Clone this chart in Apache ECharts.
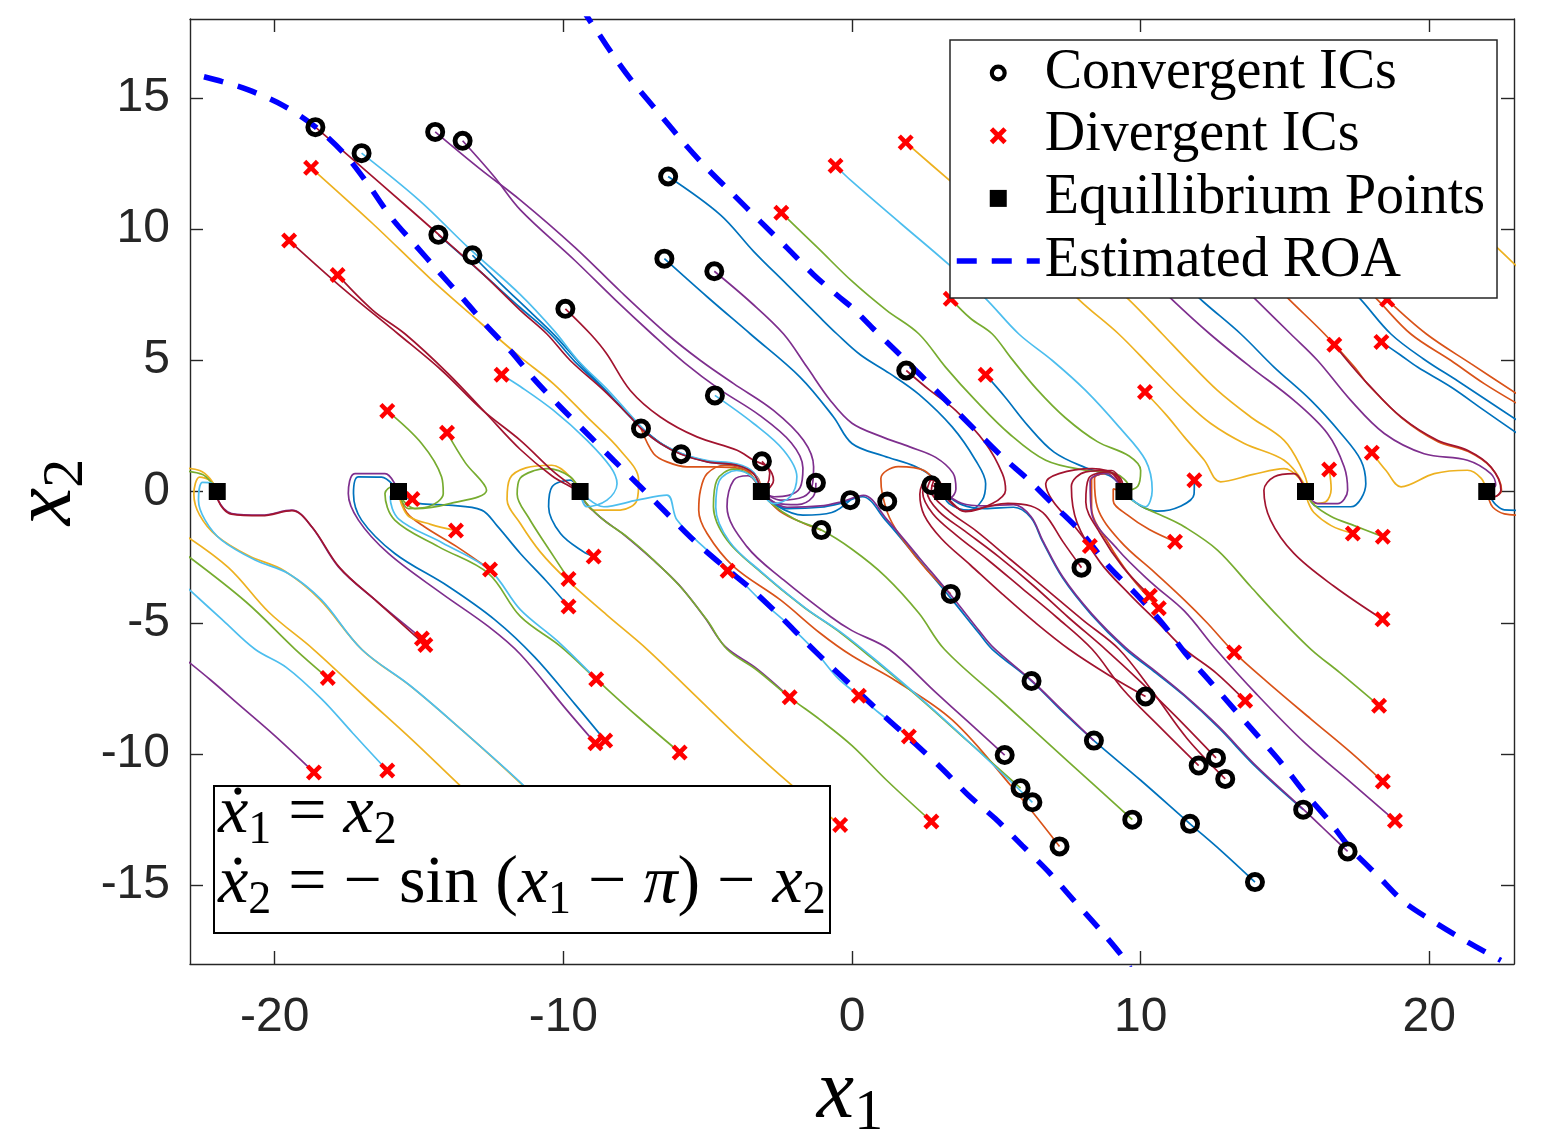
<!DOCTYPE html>
<html>
<head>
<meta charset="utf-8">
<script src="https://cdn.jsdelivr.net/npm/echarts@6/dist/echarts.min.js"></script>
<style>html,body{margin:0;padding:0;background:#fff}#chart{width:1541px;height:1140px}</style>
</head>
<body>
<div id="chart"></div>
<script>
// ---------------- data ----------------
const xTicks = [-20, -10, 0, 10, 20];
const yTicks = [-15, -10, -5, 0, 5, 10, 15];
const xRange = [-22.934, 22.934];
const yRange = [-18, 18];

const convergentICs = [
  [-18.59,13.88],[-16.99,12.89],[-14.44,13.70],[-13.49,13.36],[-14.33,9.78],[-13.15,9.0],
  [-9.93,6.96],[-6.37,12.0],[-6.5,8.87],[-4.77,8.39],[-4.75,3.66],[-7.31,2.40],[-5.92,1.42],
  [-3.12,1.15],[-1.25,0.33],[-1.06,-1.47],[-0.06,-0.33],[1.22,-0.38],[2.75,0.24],[1.88,4.61],
  [3.42,-3.90],[7.95,-2.90],[6.22,-7.22],[10.17,-7.81],[8.38,-9.49],[5.29,-10.04],[5.84,-11.30],
  [6.25,-11.84],[9.71,-12.50],[7.19,-13.52],[11.71,-12.66],[12.61,-10.15],[12.01,-10.44],
  [12.93,-10.95],[15.63,-12.12],[17.17,-13.71],[13.96,-14.88]
];
const divergentICs = [
  [-18.74,12.33],[-19.50,9.56],[-17.82,8.25],[-2.45,10.62],[-0.57,12.41],[1.86,13.30],[3.42,7.34],
  [18.54,7.31],[-16.10,3.07],[-14.03,2.24],[-12.14,4.45],[-15.23,-0.29],[-13.72,-1.49],[-12.54,-2.97],
  [-14.90,-5.60],[-14.78,-5.85],[-8.95,-2.48],[-9.82,-3.33],[-9.82,-4.38],[-4.31,-3.02],[4.63,4.45],
  [10.15,3.79],[8.24,-2.08],[10.32,-3.97],[10.63,-4.45],[11.19,-1.91],[11.86,0.43],[16.71,5.59],
  [18.34,5.70],[18.01,1.48],[16.53,0.84],[17.35,-1.60],[18.39,-1.72],[18.38,-4.87],[13.24,-6.13],
  [13.62,-7.97],[18.26,-8.16],[18.39,-11.05],[18.81,-12.54],[0.24,-7.78],[1.97,-9.33],[2.75,-12.57],
  [-0.41,-12.70],[-2.16,-7.84],[-5.97,-9.94],[-8.86,-7.15],[-8.89,-9.59],[-8.55,-9.49],[-18.16,-7.10],
  [-18.64,-10.70],[-16.10,-10.63]
];
const equilibria = [[-21.99,0],[-15.71,0],[-9.42,0],[-3.14,0],[3.14,0],[9.42,0],[15.71,0],[21.99,0]];

const roaLower = [
  [-22.45,15.8],[-21.84,15.62],[-20.91,15.30],[-19.70,14.70],[-18.60,13.90],[-17.56,12.83],[-16.75,11.68],
  [-15.95,10.42],[-15.14,9.40],[-14.33,8.39],[-13.40,7.25],[-12.60,6.24],[-11.79,5.31],[-11.03,4.30],
  [-10.10,3.22],[-9.18,2.21],[-8.26,1.19],[-7.33,0.18],[-6.41,-0.84],[-5.49,-1.85],[-4.50,-2.80],
  [-3.45,-3.75],[-2.48,-4.76],[-1.56,-5.78],[-0.70,-6.70],[0.12,-7.53],[1.16,-8.60],[2.20,-9.62],
  [3.13,-10.57],[4.05,-11.59],[4.97,-12.47],[5.90,-13.49],[6.82,-14.50],[7.63,-15.51],[8.56,-16.65],
  [9.42,-17.79],[9.75,-18.4]
];
const roaUpper = [
  [-9.40,18.5],[-9.12,18.0],[-8.78,17.45],[-8.20,16.50],[-7.56,15.55],[-6.64,14.35],[-5.77,13.21],
  [-4.97,12.25],[-4.10,11.30],[-3.18,10.29],[-2.25,9.28],[-1.33,8.26],[-0.41,7.38],[0.01,7.0],
  [0.70,6.24],[1.51,5.37],[2.44,4.36],[3.36,3.35],[4.28,2.33],[5.21,1.32],[6.13,0.43],[7.05,-0.58],
  [7.98,-1.60],[8.90,-2.86],[9.82,-3.88],[10.75,-5.02],[11.62,-6.26],[12.43,-7.27],[13.24,-8.29],
  [14.05,-9.30],[14.86,-10.32],[15.67,-11.46],[16.47,-12.47],[17.28,-13.61],[18.21,-14.63],
  [19.13,-15.64],[20.17,-16.40],[21.32,-17.16],[22.48,-17.86]
];

// trajectories, grouped by colour of the line
const blueTrajectories = [
  [[-14.33,9.78],[-12.9,8.4],[-11.49,7.0],[-10.45,6.0],[-9.6,4.95],[-8.5,3.8],[-7.6,2.75],[-6.7,1.9],[-5.9,1.44],[-5.0,1.15],[-4.0,1.02],[-3.4,0.7],[-3.14,0]],
  [[-13.15,9.0],[-12.2,7.95],[-11.2,6.9],[-10.3,5.95],[-9.45,4.9],[-8.45,3.75],[-7.5,2.65],[-6.65,1.85],[-5.85,1.4],[-4.95,1.12],[-3.95,0.98],[-3.38,0.66],[-3.14,0]],
  [[-6.37,12.0],[-4.56,10.54],[-3.41,9.15],[-2.25,7.88],[-1.1,6.62],[-0.52,6.0],[0.3,5.2],[1.3,4.5],[2.32,3.7],[3.47,2.46],[4.28,1.19],[4.63,0.3],[4.51,-0.33],[4.05,-0.71],[3.36,-0.46],[3.14,0]],
  [[-6.5,8.87],[-5.0,7.4],[-3.52,6.0],[-1.8,4.36],[-0.64,2.84],[0.0,1.83],[1.1,1.35],[2.2,0.95],[2.9,0.45],[3.14,0]],
  [[13.96,-14.88],[12.8,-13.7],[11.71,-12.66],[10.0,-11.0],[8.38,-9.49],[7.3,-8.4],[6.22,-7.22],[4.86,-6.01],[4.4,-5.4],[3.47,-4.13],[2.32,-2.61],[1.16,-1.09],[0.36,-0.2],[-0.4,-0.45],[-1.1,-0.6],[-2.25,-0.65],[-2.94,-0.27],[-3.14,0]],
  [[15.63,-12.12],[14.0,-10.5],[12.7,-9.0],[11.51,-7.78],[10.4,-6.8],[9.48,-6.01],[8.3,-4.7],[7.3,-3.3],[6.6,-1.9],[6.2,-1.0],[5.6,-0.6],[4.6,-0.65],[3.8,-0.5],[3.14,0]],
  [[-0.06,-0.33],[-0.7,-0.8],[-1.7,-0.9],[-2.6,-0.55],[-3.14,0]],
  [[-8.95,-2.48],[-9.3,-2.3],[-10.1,-1.6],[-10.51,-0.58],[-10.39,0.18],[-9.76,0.43],[-9.42,0]],
  [[-9.82,-4.38],[-10.6,-3.4],[-11.49,-2.36],[-12.3,-1.3],[-12.83,-0.71],[-13.98,-0.52],[-15.0,-0.45],[-15.71,0]],
  [[-8.55,-9.49],[-9.6,-8.1],[-11.0,-6.3],[-12.37,-4.89],[-13.98,-3.62],[-15.84,-2.36],[-16.99,-1.09],[-17.27,-0.08],[-17.1,0.56],[-16.3,0.55],[-15.71,0]],
  [[4.63,4.45],[5.3,3.6],[6.1,2.5],[7.0,1.5],[8.1,0.9],[9.0,0.55],[9.42,0]],
  [[11.86,0.43],[11.85,-0.1],[11.4,-0.55],[10.6,-0.75],[10.0,-0.55],[9.42,0]],
  [[11.0,8.4],[12.2,7.2],[13.47,6.0],[14.62,4.74],[15.9,3.47],[16.94,2.21],[17.63,1.19],[17.8,0.3],[17.28,-0.58],[16.13,-0.58],[15.71,0]],
  [[18.34,5.70],[19.0,5.2],[19.59,4.74],[20.75,3.98],[21.9,3.09],[23.2,2.1]],
  [[16.5,8.6],[17.63,7.31],[18.67,6.0],[19.8,5.05],[21.0,4.2],[22.1,3.4],[23.2,2.6]],
  [[23.2,-0.72],[22.6,-0.7],[22.3,-0.5],[22.1,-0.2],[21.99,0]]
];
const orangeTrajectories = [
  [[-7.31,2.4],[-6.87,1.44],[-6.41,1.13],[-5.72,0.94],[-4.8,0.94],[-3.87,0.87],[-3.29,0.56],[-3.14,0]],
  [[7.19,-13.52],[5.5,-11.2],[3.47,-8.7],[1.5,-7.2],[0,-6.26],[-1.1,-5.4],[-2.48,-4.13],[-4.1,-2.86],[-5.02,-1.6],[-5.31,-0.71],[-5.25,0.05],[-5.02,0.68],[-4.4,1.0],[-3.6,0.75],[-3.14,0]],
  [[3.42,-3.90],[2.6,-3.0],[1.8,-1.9],[1.3,-1.0],[1.05,-0.1],[1.0,0.5],[1.6,0.95],[2.5,0.8],[3.14,0]],
  [[-1.06,-1.47],[-1.7,-1.2],[-2.5,-0.75],[-3.0,-0.2],[-3.14,0]],
  [[-12.54,-2.97],[-13.72,-2.08],[-14.8,-1.35],[-15.43,-0.8],[-15.71,0]],
  [[11.19,-1.91],[10.3,-1.45],[9.55,-0.9],[9.05,-0.35],[9.05,0.1],[9.42,0]],
  [[18.39,-11.05],[17.28,-9.94],[15.9,-8.67],[14.4,-7.27],[13.24,-6.13],[12.3,-5.0],[11.51,-4.13],[10.5,-3.1],[9.3,-1.9],[8.5,-0.6],[8.4,0.5],[9.0,0.7],[9.42,0]],
  [[10.63,-4.45],[9.7,-3.3],[8.9,-2.0],[8.3,-0.6],[8.3,0.45],[8.95,0.7],[9.42,0]],
  [[14.0,8.6],[15.15,7.31],[16.37,6.0],[17.4,4.75],[17.9,4.05],[19.05,2.8],[20.3,1.9],[21.35,1.52],[22.15,0.9],[22.5,0.05],[22.25,-0.2],[21.99,0]],
  [[17.0,8.6],[18.2,7.31],[19.36,6.0],[20.75,4.99],[21.9,4.11],[23.2,3.25]],
  [[18.54,7.31],[19.9,6.0],[21.44,4.87],[23.2,3.6]],
  [[23.2,-0.9],[22.6,-0.85],[22.2,-0.6],[22.05,-0.25],[21.99,0]],
  [[-15.23,-0.29],[-15.45,-0.2],[-15.71,0]]
];
const yellowTrajectories = [
  [[-18.74,12.33],[-16.6,10.2],[-14.6,8.1],[-12.94,6.49],[-11.49,5.12],[-10.34,4.1],[-9.18,2.84],[-8.03,1.57],[-7.39,0.43],[-7.45,-0.33],[-8.03,-0.71],[-8.95,-0.71],[-9.42,0]],
  [[-10.2,-12.5],[-11.45,-11.15],[-13.45,-9.15],[-15.25,-7.45],[-16.95,-6.05],[-18.45,-4.1],[-19.7,-3.0],[-20.9,-2.45],[-22.0,-1.7],[-22.6,-0.9],[-22.8,-0.1],[-22.6,0.55],[-22.2,0.4],[-21.99,0]],
  [[-23.2,0.9],[-22.6,0.8],[-22.25,0.5],[-21.99,0]],
  [[-12.3,-12.5],[-13.64,-11.14],[-15.2,-9.5],[-16.9,-7.8],[-18.66,-6.01],[-20.2,-4.6],[-21.6,-2.9],[-23.2,-1.6]],
  [[-13.72,-1.49],[-14.6,-1.25],[-15.35,-0.95],[-15.6,-0.5],[-15.71,0]],
  [[-0.41,-12.70],[-2.14,-11.14],[-3.8,-9.5],[-5.5,-7.7],[-7.1,-6.01],[-8.5,-4.7],[-9.87,-3.37],[-10.8,-2.3],[-11.49,-1.22],[-11.95,-0.3],[-11.85,0.5],[-11.3,0.9],[-10.4,1.0],[-9.8,0.6],[-9.42,0]],
  [[1.86,13.3],[3.36,11.87],[4.6,10.7]],
  [[10.15,3.79],[10.9,2.9],[11.51,2.08],[12.2,1.2],[12.77,0.37],[13.9,0.65],[14.97,0.87],[15.5,0.5],[15.71,0]],
  [[8.3,8.6],[9.59,7.31],[10.75,6.0],[11.51,5.12],[12.66,3.85],[13.81,2.84],[14.97,1.95],[15.55,0.94],[15.78,0.18],[15.71,0]],
  [[6.5,8.9],[7.86,7.31],[9.24,6.0],[10.4,4.7],[11.51,3.47],[12.43,2.59],[13.59,1.83],[14.97,1.19],[15.66,0.3],[15.71,0]],
  [[16.53,0.84],[16.6,0.1],[16.4,-0.4],[16.0,-0.45],[15.71,0]],
  [[17.35,-1.60],[16.6,-1.3],[16.0,-0.8],[15.8,-0.4],[15.71,0]],
  [[18.01,1.48],[18.5,0.8],[19.02,0.18],[20.17,0.68],[21.32,0.81],[21.8,0.5],[21.99,0]],
  [[21.3,10.4],[22.36,9.28],[23.2,8.4]]
];
const purpleTrajectories = [
  [[-14.44,13.70],[-12.9,12.3],[-11.49,11.1],[-9.6,9.3],[-8.0,7.6],[-6.41,6.0],[-5.25,4.99],[-4.1,4.11],[-2.72,3.09],[-1.68,1.95],[-1.33,0.94],[-1.39,0.18],[-1.68,-0.2],[-2.48,-0.33],[-2.94,-0.14],[-3.14,0]],
  [[-13.49,13.36],[-12.4,12.0],[-11.49,10.73],[-9.6,8.8],[-8.2,7.3],[-6.93,6.0],[-5.8,4.9],[-4.6,3.9],[-3.2,2.9],[-2.1,1.85],[-1.7,0.9],[-1.8,0.15],[-2.2,-0.15],[-2.7,-0.2],[-3.14,0]],
  [[-4.77,8.39],[-3.5,7.2],[-2.37,6.0],[-1.56,4.74],[-0.75,3.47],[0,2.6],[1.0,2.1],[2.0,1.7],[2.9,1.3],[3.5,0.7],[3.6,0.1],[3.4,-0.25],[3.14,0]],
  [[5.29,-10.04],[4.0,-8.75],[2.9,-7.65],[1.28,-6.01],[0,-5.3],[-0.75,-4.76],[-2.37,-3.37],[-3.64,-2.1],[-4.33,-0.58],[-4.1,0.43],[-3.6,0.6],[-3.14,0]],
  [[-1.25,0.33],[-1.35,-0.2],[-1.9,-0.5],[-2.6,-0.45],[-3.0,-0.15],[-3.14,0]],
  [[8.38,-9.49],[7.3,-8.35],[6.22,-7.2],[4.9,-5.95],[4.4,-5.3],[3.5,-4.05],[2.35,-2.55],[1.2,-1.05],[0.4,-0.15],[-0.4,-0.4],[-1.1,-0.55],[-2.25,-0.6],[-2.94,-0.25],[-3.14,0]],
  [[17.17,-13.71],[16.3,-12.8],[15.63,-12.1],[14.0,-10.45],[12.7,-8.95],[11.51,-7.75],[10.4,-6.75],[9.48,-5.95],[8.3,-4.65],[7.3,-3.25],[6.6,-1.85],[6.2,-0.95],[5.6,-0.5],[4.6,-0.55],[3.8,-0.45],[3.14,0]],
  [[-2.16,-7.84],[-3.3,-6.75],[-4.4,-5.9],[-5.1,-4.8],[-6.0,-3.55],[-6.95,-2.55],[-7.9,-1.65],[-8.7,-1.0],[-9.25,-0.4],[-9.42,0]],
  [[-8.89,-9.59],[-9.9,-8.3],[-11.49,-6.2],[-12.6,-5.14],[-14.22,-3.88],[-16.06,-2.36],[-17.1,-1.09],[-17.45,-0.08],[-17.22,0.68],[-16.18,0.68],[-15.71,0]],
  [[-14.90,-5.60],[-16.52,-4.13],[-17.79,-2.87],[-18.72,-1.34],[-19.41,-0.71],[-20.45,-0.90],[-21.49,-0.84],[-21.95,-0.35],[-21.99,0]],
  [[-18.64,-10.70],[-20.0,-9.3],[-21.26,-8.10],[-22.2,-7.2],[-23.2,-6.3]],
  [[9.9,8.6],[11.09,7.31],[12.4,6.0],[13.81,4.74],[15.31,3.47],[16.47,2.21],[17.05,0.94],[17.17,0.05],[16.82,-0.46],[16.13,-0.46],[15.71,0]],
  [[12.7,8.7],[13.99,7.31],[15.2,6.0],[16.13,4.99],[17.28,3.47],[18.44,2.21],[19.82,1.44],[21.32,1.19],[22.13,0.68],[22.3,0.25],[21.99,0]],
  [[18.81,-12.54],[17.28,-11.08],[15.67,-9.56],[14.0,-7.7],[12.6,-6.0],[11.51,-4.55],[10.4,-3.5],[9.2,-2.2],[8.3,-0.8],[8.25,0.4],[8.8,0.7],[9.42,0]]
];
const greenTrajectories = [
  [[-16.10,3.07],[-14.91,1.83],[-14.22,0.56],[-14.16,-0.08],[-14.68,-0.58],[-15.37,-0.65],[-15.71,0]],
  [[-14.03,2.24],[-13.4,1.1],[-12.66,0.05],[-13.9,-0.45],[-15.14,-0.65],[-15.5,-0.4],[-15.71,0]],
  [[-23.2,0.8],[-22.5,0.65],[-22.2,0.35],[-21.99,0]],
  [[-18.16,-7.10],[-19.29,-6.01],[-21.0,-4.2],[-23.2,-2.3]],
  [[-5.97,-9.94],[-7.4,-8.6],[-8.86,-7.15],[-10.1,-5.9],[-11.49,-4.76],[-12.6,-3.12],[-14.33,-2.10],[-15.84,-1.09],[-16.18,-0.08],[-15.9,0.2],[-15.71,0]],
  [[-9.82,-3.33],[-10.5,-2.2],[-11.2,-1.0],[-11.6,-0.1],[-11.5,0.5],[-11.0,0.8],[-10.56,0.87],[-9.76,0.56],[-9.42,0]],
  [[2.75,-12.57],[1.2,-11.0],[0,-9.68],[-1.1,-8.7],[-2.16,-7.84],[-3.3,-6.8],[-4.33,-6.01],[-5.03,-4.89],[-5.95,-3.62],[-6.87,-2.61],[-7.8,-1.72],[-8.6,-1.09],[-9.2,-0.45],[-9.42,0]],
  [[5.84,-11.3],[4.05,-9.55],[2.32,-7.85],[0.69,-6.35],[-0.5,-5.3],[-1.68,-4.4],[-3.18,-3.05],[-4.33,-1.85],[-4.8,-0.58],[-4.68,0.43],[-4.1,0.85],[-3.5,0.6],[-3.14,0]],
  [[9.71,-12.5],[7.5,-10.3],[5.2,-8.0],[3.2,-6.01],[2.32,-4.64],[1.16,-3.24],[0,-2.2],[-1.06,-1.47],[-2.0,-1.05],[-2.8,-0.45],[-3.14,0]],
  [[-2.45,10.62],[-1.2,9.3],[0,8.01],[1.2,6.9],[2.32,6.0],[3.24,4.74],[4.28,3.47],[5.44,2.21],[6.71,1.19],[8.09,0.81],[9.13,0.68],[9.59,0.18],[9.42,0]],
  [[3.42,7.34],[4.1,6.6],[4.86,6.0],[5.5,5.1],[6.4,3.9],[7.4,2.8],[8.5,1.9],[9.6,1.35],[10.0,0.8],[9.9,0.2],[9.42,0]],
  [[18.39,-1.72],[17.4,-1.3],[16.6,-0.95],[16.0,-0.5],[15.71,0]],
  [[18.26,-8.16],[16.9,-6.9],[15.9,-6.01],[14.8,-4.8],[13.81,-3.62],[12.66,-2.23],[11.51,-1.34],[10.8,-0.95],[10.1,-0.6],[9.6,-0.25],[9.42,0]]
];
const lightBlueTrajectories = [
  [[-16.99,12.89],[-15.0,11.1],[-13.3,9.3],[-11.49,7.5],[-10.3,6.1],[-9.5,5.0],[-8.4,3.8],[-7.5,2.7],[-6.8,1.95],[-5.9,1.45],[-5.0,1.18],[-4.0,1.05],[-3.4,0.72],[-3.14,0]],
  [[-12.14,4.45],[-11.49,4.0],[-10.34,3.09],[-9.18,1.95],[-8.37,0.94],[-8.14,0.3],[-8.49,-0.33],[-9.18,-0.58],[-9.42,0]],
  [[1.97,-9.33],[0.9,-8.4],[0.24,-7.78],[-0.5,-7.1],[-1.33,-6.01],[-2.25,-5.02],[-3.18,-4.13],[-4.1,-3.12],[-5.02,-2.23],[-6.06,-1.09],[-6.41,-0.14],[-7.45,-0.33],[-8.6,-0.58],[-9.42,0]],
  [[-10.3,-12.4],[-11.49,-11.08],[-13.5,-9.1],[-15.3,-7.4],[-16.99,-6.01],[-18.38,-4.13],[-19.53,-3.12],[-20.68,-2.61],[-21.84,-1.85],[-22.41,-1.09],[-22.64,-0.33],[-22.5,0.35],[-22.15,0.3],[-21.99,0]],
  [[-16.10,-10.63],[-17.3,-9.2],[-18.37,-7.91],[-19.6,-6.7],[-20.68,-6.01],[-21.8,-4.9],[-23.2,-3.5]],
  [[-8.86,-7.15],[-10.2,-5.7],[-11.49,-4.5],[-12.54,-3.0],[-14.2,-1.95],[-15.7,-1.05],[-16.0,-0.2],[-15.71,0]],
  [[-0.57,12.41],[0,11.81],[1.7,10.2],[3.36,8.64],[4.63,7.35],[5.78,6.0],[6.94,4.99],[8.09,3.85],[9.25,2.46],[10.17,1.19],[10.4,0.05],[10.17,-0.58],[9.71,-0.33],[9.42,0]],
  [[-4.75,3.66],[-3.41,2.59],[-2.37,1.57],[-1.91,0.56],[-2.14,-0.2],[-2.72,-0.46],[-3.14,0]],
  [[6.25,-11.84],[4.3,-9.8],[2.45,-7.95],[0.8,-6.4],[-0.4,-5.35],[-1.6,-4.45],[-3.1,-3.1],[-4.25,-1.9],[-4.72,-0.6],[-4.6,0.4],[-4.0,0.8],[-3.45,0.55],[-3.14,0]]
];
const darkRedTrajectories = [
  [[-18.59,13.88],[-16.3,11.7],[-14.33,9.8],[-12.8,8.3],[-11.49,6.9],[-10.57,6.0],[-9.76,4.99],[-8.6,3.85],[-7.68,2.84],[-7.31,2.40],[-6.64,1.83],[-5.92,1.42],[-5.02,1.13],[-3.98,1.0],[-3.41,0.68],[-3.14,0]],
  [[-19.50,9.56],[-17.6,7.7],[-15.72,6.0],[-14.2,4.6],[-12.8,3.1],[-11.49,1.95],[-10.34,0.76],[-9.65,0.18],[-9.42,0]],
  [[-17.82,8.25],[-16.6,6.9],[-15.48,6.0],[-14.0,4.5],[-12.7,3.0],[-11.49,1.6],[-10.4,0.6],[-9.7,0.15],[-9.42,0]],
  [[-9.93,6.96],[-9.06,6.0],[-8.5,5.25],[-7.68,3.85],[-6.64,2.84],[-5.37,2.08],[-3.98,1.57],[-3.41,1.19],[-2.94,0.94],[-2.72,0.43],[-2.94,0.05],[-3.14,0]],
  [[-14.78,-5.85],[-16.45,-4.2],[-17.75,-2.9],[-18.7,-1.36],[-19.4,-0.73],[-20.45,-0.92],[-21.5,-0.86],[-21.95,-0.36],[-21.99,0]],
  [[1.88,4.61],[2.7,3.85],[3.59,3.09],[4.63,1.83],[5.21,0.68],[5.32,0.05],[4.86,-0.46],[3.93,-0.77],[3.4,-0.4],[3.14,0]],
  [[7.95,-2.90],[7.3,-1.9],[6.7,-0.9],[6.2,-0.55],[5.4,-0.45],[4.6,-0.6],[3.9,-0.75],[3.4,-0.35],[3.14,0]],
  [[10.17,-7.81],[8.9,-7.0],[7.52,-6.01],[6.3,-4.95],[5.2,-3.9],[4.1,-2.8],[3.1,-1.8],[2.5,-0.9],[2.35,-0.1],[2.6,0.45],[3.0,0.35],[3.14,0]],
  [[12.01,-10.44],[10.6,-8.9],[9.4,-7.55],[8.32,-6.01],[7.1,-4.8],[5.9,-3.7],[4.7,-2.6],[3.6,-1.65],[2.8,-0.85],[2.45,-0.05],[2.7,0.5],[3.05,0.35],[3.14,0]],
  [[12.61,-10.15],[11.2,-8.55],[10.0,-7.25],[8.78,-6.01],[7.5,-4.8],[6.3,-3.6],[5.1,-2.5],[3.9,-1.5],[3.0,-0.75],[2.6,0.0],[2.8,0.5],[3.14,0]],
  [[12.93,-10.95],[11.6,-9.4],[10.4,-7.6],[9.25,-6.01],[8.0,-4.9],[6.7,-3.7],[5.5,-2.6],[4.3,-1.5],[3.3,-0.7],[2.75,0.05],[2.9,0.5],[3.14,0]],
  [[8.24,-2.08],[7.63,-1.22],[6.94,-0.33],[6.71,0.3],[7.17,0.68],[8.32,0.87],[9.25,0.56],[9.42,0]],
  [[13.62,-7.97],[12.6,-6.9],[11.51,-6.0],[10.7,-5.1],[9.6,-3.9],[8.6,-2.7],[7.8,-1.2],[7.6,0.2],[8.1,0.75],[9.0,0.8],[9.42,0]],
  [[10.32,-3.97],[9.4,-2.9],[8.6,-1.6],[8.1,-0.4],[8.2,0.5],[8.9,0.75],[9.42,0]],
  [[16.71,5.59],[17.3,4.8],[17.86,4.11],[19.02,2.84],[20.28,1.95],[21.32,1.57],[22.13,0.94],[22.48,0.05],[22.25,-0.2],[21.99,0]],
  [[18.38,-4.87],[16.71,-3.62],[15.31,-2.36],[14.5,-1.09],[14.27,0.05],[14.63,0.56],[15.32,0.68],[15.71,0]],
  [[-3.12,1.15],[-2.85,0.7],[-2.95,0.2],[-3.14,0]],
  [[2.75,0.24],[2.95,0.15],[3.14,0]]
];
const legendNames = ['Convergent ICs', 'Divergent ICs', 'Equillibrium Points', 'Estimated ROA'];

// ---------------- chart ----------------
const ringSymbol = 'path://M10,0A10,10,0,1,1,10,20A10,10,0,1,1,10,0ZM10,4.9A5.1,5.1,0,1,0,10,15.1A5.1,5.1,0,1,0,10,4.9Z';
const crossSymbol = 'path://M2,0L5,3L8,0L10,2L7,5L10,8L8,10L5,7L2,10L0,8L3,5L0,2Z';
const squareSymbol = 'path://M0,0H10V10H0Z';

const trajectoryGroups = [
  [blueTrajectories, '#0072BD'], [orangeTrajectories, '#D95319'], [yellowTrajectories, '#EDB120'],
  [purpleTrajectories, '#7E2F8E'], [greenTrajectories, '#77AC30'], [lightBlueTrajectories, '#4DBEEE'],
  [darkRedTrajectories, '#A2142F']
];
const series = [];
trajectoryGroups.forEach(([paths, color]) => {
  paths.forEach(p => series.push({
    type: 'line', data: p, showSymbol: false, symbol: 'none', smooth: 0.35, silent: true,
    lineStyle: { color: color, width: 1.7 }, z: 2
  }));
});
const roaStyle = { color: '#0000FF', width: 5.5, type: [20, 15], cap: 'butt' };
series.push({ name: legendNames[3], type: 'line', data: roaLower, symbol: 'none', showSymbol: false, smooth: 0.3, lineStyle: roaStyle, itemStyle: { color: '#0000FF' }, z: 3 });
series.push({ name: legendNames[3], type: 'line', data: roaUpper, symbol: 'none', showSymbol: false, smooth: 0.3, lineStyle: roaStyle, itemStyle: { color: '#0000FF' }, z: 3 });
series.push({ name: legendNames[0], type: 'scatter', data: convergentICs, symbol: ringSymbol, symbolSize: 20,
  symbolKeepAspect: true, itemStyle: { color: '#000', opacity: 1 }, z: 5 });
series.push({ name: legendNames[1], type: 'scatter', data: divergentICs, symbol: crossSymbol, symbolSize: 16,
  symbolKeepAspect: true, itemStyle: { color: '#FF0000', opacity: 1 }, z: 5 });
series.push({ name: legendNames[2], type: 'scatter', data: equilibria, symbol: squareSymbol, symbolSize: 17,
  symbolKeepAspect: true, itemStyle: { color: '#000', opacity: 1 }, z: 6 });

const axisCol = '#262626';
function xAx(pos, labels) {
  return {
    type: 'value', min: xRange[0], max: xRange[1], position: pos,
    axisLine: { show: true, onZero: false, lineStyle: { color: axisCol, width: 1.4 } },
    axisTick: { show: true, inside: true, length: 13, customValues: xTicks, lineStyle: { color: axisCol, width: 1.4 } },
    axisLabel: { show: labels, customValues: xTicks, fontSize: 48, fontFamily: 'Liberation Sans', color: axisCol, margin: 30 },
    splitLine: { show: false }
  };
}
function yAx(pos, labels) {
  return {
    type: 'value', min: yRange[0], max: yRange[1], position: pos,
    axisLine: { show: true, onZero: false, lineStyle: { color: axisCol, width: 1.4 } },
    axisTick: { show: true, inside: true, length: 13, customValues: yTicks, lineStyle: { color: axisCol, width: 1.4 } },
    axisLabel: { show: labels, customValues: yTicks, fontSize: 48, fontFamily: 'Liberation Sans', color: axisCol, margin: 20 },
    splitLine: { show: false }
  };
}
const mathRich = {
  v: { fontFamily: 'Liberation Serif', fontStyle: 'italic', fontSize: 68, lineHeight: 80, verticalAlign: 'middle', color: '#000' },
  n: { fontFamily: 'Liberation Serif', fontSize: 68, lineHeight: 80, verticalAlign: 'middle', color: '#000' },
  s: { fontFamily: 'Liberation Serif', fontSize: 46, lineHeight: 46, verticalAlign: 'bottom', color: '#000' }
};
const labelRich = {
  v: { fontFamily: 'Liberation Serif', fontStyle: 'italic', fontSize: 84, lineHeight: 96, verticalAlign: 'middle', color: '#262626' },
  s: { fontFamily: 'Liberation Serif', fontSize: 58, lineHeight: 58, verticalAlign: 'bottom', color: '#262626' }
};

const chart = echarts.init(document.getElementById('chart'), null, { renderer: 'canvas' });
chart.setOption({
  animation: false,
  backgroundColor: '#fff',
  grid: { left: 190, right: 27, top: 19, bottom: 176 },
  xAxis: [xAx('bottom', true), xAx('top', false)],
  yAxis: [yAx('left', true), yAx('right', false)],
  legend: {
    data: [
      { name: legendNames[0], itemStyle: { opacity: 1 } },
      { name: legendNames[1], itemStyle: { opacity: 1 } },
      { name: legendNames[2], itemStyle: { opacity: 1 } },
      { name: legendNames[3], itemStyle: { opacity: 0 }, lineStyle: { width: 5.5, type: [20, 15], color: '#0000FF', opacity: 1 } }
    ],
    orient: 'vertical', left: 950, top: 40,
    padding: [3, 12, 7, 4], itemWidth: 83, itemHeight: 17, itemGap: 2.7,
    textStyle: { fontFamily: 'Liberation Serif', fontSize: 56, color: '#000', lineHeight: 60 },
    borderColor: axisCol, borderWidth: 1.5, backgroundColor: '#fff', selectedMode: false, z: 10
  },
  graphic: [
    { type: 'rect', z: 50, shape: { x: 214, y: 786, width: 616, height: 147 },
      style: { fill: '#fff', stroke: '#000', lineWidth: 2 } },
    { type: 'text', z: 51, x: 218, y: 774,
      style: { text: '{v|x\u0307}{s|1}{n| = }{v|x}{s|2}', rich: mathRich, verticalAlign: 'top' } },
    { type: 'text', z: 51, x: 218, y: 844,
      style: { text: '{v|x\u0307}{s|2}{n| = \u2212 sin (}{v|x}{s|1}{n| \u2212 }{v|\u03C0}{n|) \u2212 }{v|x}{s|2}', rich: mathRich, verticalAlign: 'top' } },
    { type: 'text', z: 51, x: 850, y: 1047,
      style: { text: '{v|x}{s|1}', rich: labelRich, align: 'center', verticalAlign: 'top' } },
    { type: 'text', z: 51, x: 48, y: 492, rotation: Math.PI / 2,
      style: { text: '{v|x}{s|2}', rich: labelRich, align: 'center', verticalAlign: 'middle' } }
  ],
  series: series
});
</script>
</body>
</html>
